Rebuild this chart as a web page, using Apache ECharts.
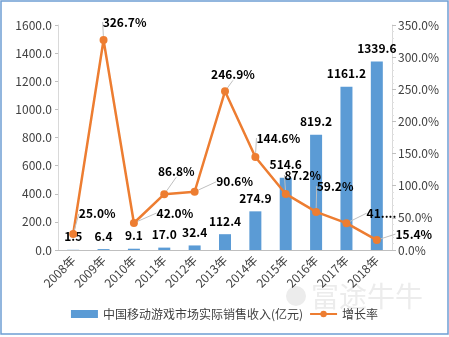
<!DOCTYPE html>
<html><head><meta charset="utf-8">
<script src="https://cdn.jsdelivr.net/npm/echarts@6/dist/echarts.min.js"></script>
<style>html,body{margin:0;padding:0;background:#fff}#c{width:449px;height:337px}</style>
</head><body><div id="c"></div>
<script>
var categories = ['2008年','2009年','2010年','2011年','2012年','2013年','2014年','2015年','2016年','2017年','2018年'];
var revenue = [1.5, 6.4, 9.1, 17.0, 32.4, 112.4, 274.9, 514.6, 819.2, 1161.2, 1339.6];
var growth = [25.0, 326.7, 42.0, 86.8, 90.6, 246.9, 144.6, 87.2, 59.2, 41.7, 15.4];
var leftTicks = [0, 200, 400, 600, 800, 1000, 1200, 1400, 1600];
var rightTicks = [0, 50, 100, 150, 200, 250, 300, 350];
var seriesNames = ['中国移动游戏市场实际销售收入(亿元)', '增长率'];
// label offsets for growth labels (styling only)
var growthLabelOffsets = [[24,-20],[21,-18],[41,-10],[12,-23],[40,-10],[8,-17],[23,-19],[17,-19],[19,-26],[35,-10],[37,-6]];
var growthLabelText = ['25.0%','326.7%','42.0%','86.8%','90.6%','246.9%','144.6%','87.2%','59.2%','41....','15.4%'];

var font = '"Noto Sans CJK SC", "Noto Sans", sans-serif';
var chart = echarts.init(document.getElementById('c'));
chart.setOption({
  animation: false,
  textStyle: {fontFamily: font},
  grid: {left: 58, right: 57, top: 25, bottom: 87, containLabel: false},
  legend: {
    bottom: 12, left: 'center', itemGap: 6,
    textStyle: {fontSize: 12, color: '#404040', fontFamily: font},
    data: [
      {name: seriesNames[0], icon: 'rect', itemStyle: {}},
      {name: seriesNames[1]}
    ],
    itemWidth: 27, itemHeight: 8
  },
  xAxis: {
    type: 'category', data: categories,
    axisLine: {lineStyle: {color: '#bfbfbf'}},
    axisTick: {show: false},
    axisLabel: {rotate: 45, color: '#404040', fontSize: 12, interval: 0, margin: 8, fontFamily: font}
  },
  yAxis: [{
    type: 'value', min: leftTicks[0], max: leftTicks[leftTicks.length-1], interval: 200,
    axisLine: {show: true, lineStyle: {color: '#d9d9d9'}},
    axisTick: {show: true, length: 3, lineStyle: {color: '#bfbfbf'}},
    splitLine: {show: false},
    axisLabel: {color: '#404040', fontSize: 12, margin: 6, fontFamily: font, formatter: function(v){return v.toFixed(1);}}
  },{
    type: 'value', min: rightTicks[0], max: rightTicks[rightTicks.length-1], interval: 50,
    axisLine: {show: true, lineStyle: {color: '#d9d9d9'}},
    axisTick: {show: true, length: 4, lineStyle: {color: '#bfbfbf'}},
    minorTick: {show: true, splitNumber: 5, length: 2, lineStyle: {color: '#e0e0e0'}},
    splitLine: {show: false},
    axisLabel: {color: '#404040', fontSize: 12, margin: 6, fontFamily: font, formatter: function(v){return v.toFixed(1)+'%';}}
  }],
  graphic: [
    {type: 'rect', silent: true, z: 100, shape: {x: 1, y: 1, width: 447, height: 333}, style: {fill: 'none', stroke: '#6f9fd3', lineWidth: 1.5}},
    {type: 'circle', silent: true, z: -1, shape: {cx: 296, cy: 296, r: 10}, style: {fill: '#ececec'}},
    {type: 'text', silent: true, z: -1, left: 311, top: 282, style: {text: '富途牛牛', fontSize: 28, fill: '#ececec', fontFamily: font}}
  ],
  series: [{
    name: seriesNames[0], type: 'bar', data: revenue, yAxisIndex: 0,
    barWidth: 12,
    itemStyle: {color: '#5b9bd5'},
    label: {show: true, position: 'top', distance: 7, color: '#000', fontWeight: 'bold', fontSize: 12, fontFamily: font,
      formatter: function(p){return p.value.toFixed(1);}}
  },{
    name: seriesNames[1], type: 'line', data: growth, yAxisIndex: 1,
    symbol: 'circle', symbolSize: 8,
    lineStyle: {color: '#ed7d31', width: 2.5},
    itemStyle: {color: '#ed7d31'},
    z: 5,
    label: {show: true, position: 'inside', color: '#000', fontWeight: 'bold', fontSize: 12, fontFamily: font,
      formatter: function(p){return growthLabelText[p.dataIndex];}},
    labelLine: {show: true, lineStyle: {color: '#bfbfbf', width: 1}},
    labelLayout: function(p){
      var o = growthLabelOffsets[p.dataIndex];
      return {dx: o[0], dy: o[1]};
    }
  }]
});
</script></body></html>
